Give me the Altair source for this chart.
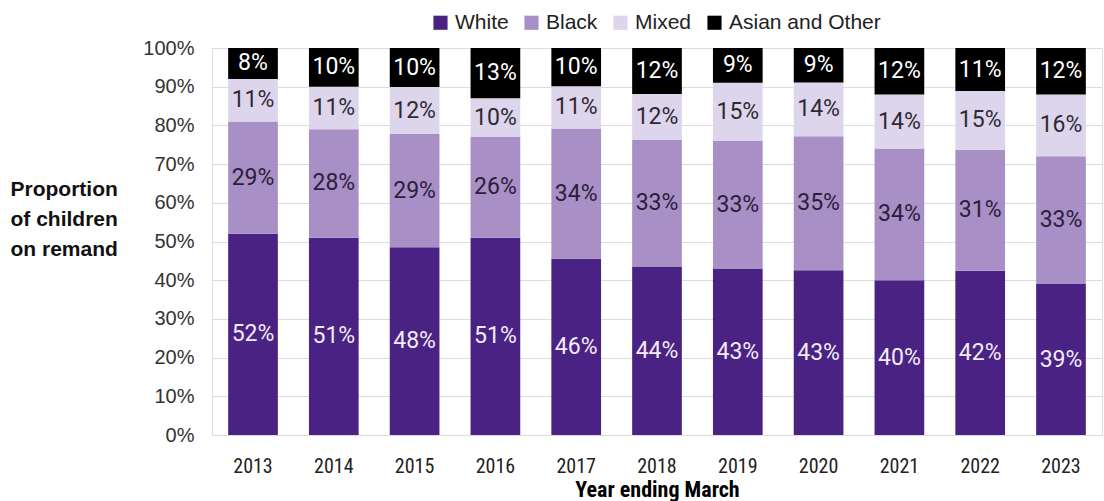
import altair as alt
import pandas as pd

years = ["2013", "2014", "2015", "2016", "2017", "2018", "2019", "2020", "2021", "2022", "2023"]
series = ["White", "Black", "Mixed", "Asian and Other"]
white = [52, 51, 48, 51, 46, 44, 43, 43, 40, 42, 39]
black = [29, 28, 29, 26, 34, 33, 33, 35, 34, 31, 33]
mixed = [11, 11, 12, 10, 11, 12, 15, 14, 14, 15, 16]
other = [8, 10, 10, 13, 10, 12, 9, 9, 12, 11, 12]
y_ticks = [0, 0.1, 0.2, 0.3, 0.4, 0.5, 0.6, 0.7, 0.8, 0.9, 1.0]
fill_colors = ["#4a2283", "#a88fc6", "#ddd5eb", "#000000"]
text_colors = ["#f2ecf8", "#2b1d3b", "#2e2a33", "#ffffff"]

NARROW = "Roboto Condensed, Liberation Sans Narrow, DejaVu Sans Condensed, Roboto"

rows = []
for i, y in enumerate(years):
    for k, vals in enumerate([white, black, mixed, other]):
        rows.append({"year": y, "series": series[k], "value": vals[i], "ord": k,
                     "tc": text_colors[k]})
df = pd.DataFrame(rows)

base = alt.Chart(df).transform_stack(
    stack="value", groupby=["year"], sort=[alt.SortField("ord", order="ascending")],
    as_=["v0", "v1"], offset="normalize"
).transform_calculate(mid="(datum.v0 + datum.v1) / 2", lab="datum.value + '%'")

x_axis = alt.Axis(labelAngle=0, ticks=False, domain=False, labelPadding=21,
                  labelFont=NARROW, labelFontSize=20, labelColor="#222222",
                  titleFont=NARROW, titleFontSize=22, titleFontWeight="bold",
                  titleColor="#000000", titleY=44, titlePadding=0)

y_axis = alt.Axis(format=".0%", values=y_ticks, tickCount=20, labelOverlap=False,
                  ticks=False, domain=True, domainColor="#dddddd", labelPadding=18,
                  labelFont="Liberation Sans", labelFontSize=20, labelColor="#333333",
                  gridColor="#dcdcdc", titleAngle=0, titleAlign="left", titleBaseline="top",
                  titleX=-202, titleY=130, titleFont="Liberation Sans", titleFontSize=21,
                  titleFontWeight="bold", titleColor="#111111", titleLineHeight=30)
y_title = ["Proportion", "of children", "on remand"]
y_scale = alt.Scale(domain=[0, 1])
x_scale = alt.Scale(paddingInner=0.385, paddingOuter=0.2)

bars = base.mark_bar().encode(
    x=alt.X("year:N", sort=years, title="Year ending March", scale=x_scale, axis=x_axis),
    y=alt.Y("v0:Q", title=y_title, scale=y_scale, axis=y_axis),
    y2="v1:Q",
    color=alt.Color("series:N", scale=alt.Scale(domain=series, range=fill_colors),
                    sort=series,
                    legend=alt.Legend(title=None, orient="none", legendX=218, legendY=-36,
                                      direction="horizontal", symbolType="square", symbolSize=200,
                                      symbolStrokeWidth=0, labelFont="Liberation Sans", labelFontSize=21,
                                      labelColor="#222222", columnPadding=12, symbolOffset=0,
                                      labelOffset=4)),
    order=alt.Order("ord:Q"),
)

labels = base.mark_text(font="Roboto", fontSize=23, baseline="middle").encode(
    x=alt.X("year:N", sort=years, title="Year ending March", scale=x_scale, axis=x_axis),
    y=alt.Y("mid:Q", title=y_title, scale=y_scale, axis=y_axis),
    text="lab:N",
    color=alt.Color("tc:N", scale=None),
)

chart = alt.layer(bars, labels).properties(
    width=890, height=387,
    autosize=alt.AutoSizeParams(type="none"),
    padding={"left": 212, "top": 48, "right": 2, "bottom": 66},
).configure_view(stroke=None).configure(background="white")

chart.save("out.html", embed_options={"renderer": "svg", "actions": False})
